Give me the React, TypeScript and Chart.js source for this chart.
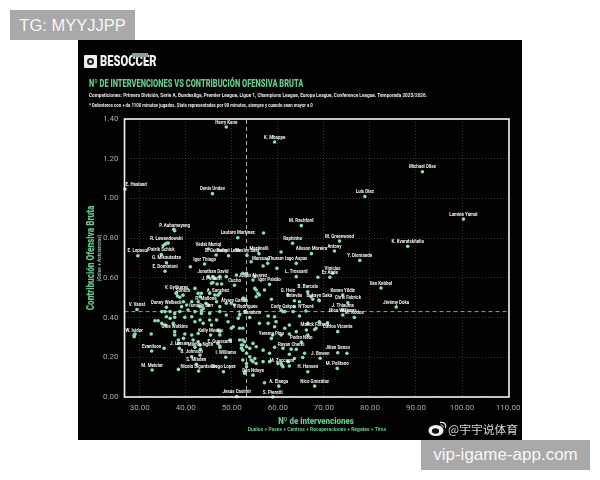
import React, { useEffect, useRef } from "react";
import { Chart, registerables } from "chart.js";

Chart.register(...registerables);

const chartTitle = "Nº DE INTERVENCIONES VS CONTRIBUCIÓN OFENSIVA BRUTA";
const chartSubtitle = "Competiciones: Primera División, Serie A, Bundesliga, Premier League, Ligue 1, Champions League, Europa League, Conference League. Temporada 2025/2026.";
const chartNote = "* Delanteros con + de 1100 minutos jugados. Stats representadas por 90 minutos, siempre y cuando sean mayor a 0";
const xTitle = "Nº de intervenciones";
const xSubtitle = "Duelos + Pases + Centros + Recuperaciones + Regates + Tiros";
const yTitle = "Contribución Ofensiva Bruta";
const ySubtitle = "(Goles + Asistencias)";

const labelNames = [
  "Harry Kane", "K. Mbappe", "E. Haaland", "Denis Undav", "M. Rashford", "P. Aubameyang", "Lautaro Martinez",
  "R. Lewandowski", "Raphinha", "E. Lepasul", "Patrik Schick", "Vedat Muriqi", "S. Guirassy", "Rafael Leão",
  "Martinelli", "Wesley Said", "Marcus Thuram", "Iago Aspas", "Alisson Moreira", "Igor Thiago", "G. Mikautadze",
  "E. Dominioni", "Michael Olise", "Luis Diaz", "Lamine Yamal", "M. Greenwood", "K. Kvaratskhelia", "Antony",
  "Y. Diomande", "Ilan Kebbal", "Jérémy Doku", "Jonathan David", "J. Pellistri", "Cucho", "A. Sanchez",
  "V. Gyökeres", "Sörloth", "Danny Welbeck", "V. Vanat", "W. Isidor", "Evanilson", "M. Meister", "J. Larsen",
  "Ollie Watkins", "B. Johnson", "S. Mladen", "Nicola Sigurdsson", "Diego Lopez", "I. Williams", "Jesus Casimir",
  "S. Pierotti", "Vinicius", "Ez Abde", "L. Trossard", "Julián Alvarez", "Igor Paixão", "B. Barcola", "G. Hein",
  "Kenan Yildiz", "Bukayo Saka", "Estevão", "Chris Fabrick", "J. Thiaume", "Cody Gakpo", "N'Touré", "Nico Williams",
  "M. Kodos", "Carlos Vicente", "Jilien Danso", "J. Bowen", "M. Politano", "Nico González", "A. Elanga",
  "H. Hansen", "Dan Ndoye", "Yeremy Pino", "Pedro Neto", "Rayan Cherki", "M. Zaccagni", "Álvaro García", "Ismaïla Sarr",
  "R. Mallone", "E. Guessand", "Kelly Mouris", "Mikhia Ngoh", "L. Sanabria", "Malick Fofana", "T. Rodrigues",
];
const labelX = [
  48.8, 59.3, 26.8, 45.8, 65.1, 37.6, 51.3, 35.8, 63.2, 29.6, 34.7, 44.9, 46.6, 49.3, 55.9, 53.3, 57.8, 64.0, 67.3, 44.1, 35.8,
  35.5, 91.4, 78.9, 100.3, 73.4, 88.2, 72.3, 77.8, 82.4, 85.7, 45.9, 45.6, 50.6, 47.0, 38.0, 39.4, 35.8, 29.4, 28.8, 32.6, 32.7, 38.6,
  37.6, 41.3, 42.3, 42.8, 48.2, 48.7, 51.1, 58.9, 71.9, 71.3, 64.0, 54.6, 58.2, 66.5, 62.2, 74.1, 69.0, 63.6, 75.2, 74.1, 61.1, 66.1, 74.1,
  76.6, 73.0, 73.0, 69.2, 72.9, 68.0, 60.2, 66.5, 54.6, 58.6, 65.1, 62.9, 60.9, 50.6, 43.4, 44.4, 47.4, 45.4, 43.2, 53.9, 68.0, 52.9,
];
const labelY = [
  1.36, 1.284, 1.047, 1.024, 0.863, 0.837, 0.802, 0.774, 0.774, 0.711, 0.718, 0.745, 0.715, 0.711, 0.722, 0.713, 0.673, 0.673, 0.722, 0.67, 0.676,
  0.633, 1.134, 1.01, 0.896, 0.785, 0.759, 0.735, 0.688, 0.549, 0.453, 0.606, 0.573, 0.563, 0.513, 0.525, 0.513, 0.452, 0.441, 0.312, 0.232, 0.136, 0.245,
  0.329, 0.203, 0.165, 0.131, 0.127, 0.2, 0.002, 0.0, 0.623, 0.603, 0.606, 0.589, 0.567, 0.53, 0.514, 0.514, 0.485, 0.485, 0.475, 0.438, 0.43, 0.433, 0.413,
  0.4, 0.329, 0.223, 0.195, 0.144, 0.055, 0.055, 0.127, 0.11, 0.295, 0.277, 0.241, 0.16, 0.463, 0.435, 0.472, 0.257, 0.312, 0.24, 0.4, 0.34, 0.43,
];

const otherX = [
  41.0, 44.9, 46.3, 47.4, 48.8, 51.0, 52.4, 45.9, 46.8, 47.8, 42.0, 42.7, 43.4, 43.1, 45.2, 46.3, 47.4, 37.9, 38.2, 38.7, 39.5, 39.1, 40.2, 41.3, 42.7,
  43.1, 43.8, 44.9, 46.7, 47.4, 48.8, 52.6, 49.9, 34.8, 35.5, 36.6, 37.6, 38.7, 40.5, 42.0, 43.4, 45.2, 47.4, 48.8, 51.7, 35.8, 36.6, 37.6, 39.8, 41.3,
  42.0, 43.1, 45.2, 46.7, 49.2, 51.4, 33.3, 34.0, 34.8, 35.5, 37.3, 43.8, 45.6, 47.4, 49.9, 50.3, 52.4, 47.0, 32.5, 28.8, 29.0, 37.6, 39.8, 41.3, 42.7,
  47.4, 49.6, 51.7, 52.8, 52.1, 53.2, 38.4, 39.5, 41.6, 42.7, 43.1, 38.4, 35.3, 42.0, 47.0, 47.4, 52.4, 53.2, 43.1, 38.4, 52.8, 53.2, 51.7, 53.2, 55.0,
  55.0, 55.3, 55.7, 56.0, 55.3, 57.1, 58.6, 59.8, 56.8, 68.7, 67.2, 67.6, 68.9, 64.7, 63.6, 60.7, 61.5, 63.3, 64.7, 57.9, 59.3, 52.4, 52.8, 56.0, 57.9,
  59.6, 62.5, 59.3, 61.5, 66.5, 69.0, 70.8, 66.2, 68.3, 64.0, 62.5, 58.9, 60.7, 66.5, 52.4, 54.6, 52.4, 52.1, 53.9, 55.3, 56.8, 59.3, 61.1, 58.2, 64.0,
  65.8, 62.5, 63.6, 65.4, 75.0, 53.9, 55.0, 54.2, 53.2, 54.6, 55.3, 58.2, 60.7, 61.1, 62.5, 62.2, 60.0, 56.8, 52.4, 57.1, 52.8, 56.9, 37.4, 35.1, 35.5,
  36.2, 60.7, 57.8, 54.2,
];
const otherY = [
  0.656, 0.606, 0.598, 0.606, 0.606, 0.614, 0.623, 0.576, 0.569, 0.569, 0.547, 0.522, 0.522, 0.505, 0.522, 0.514, 0.522, 0.522, 0.509, 0.502, 0.48, 0.455, 0.463, 0.48, 0.48,
  0.455, 0.446, 0.463, 0.48, 0.455, 0.472, 0.497, 0.472, 0.43, 0.43, 0.43, 0.421, 0.43, 0.438, 0.43, 0.421, 0.421, 0.43, 0.413, 0.413, 0.404, 0.396, 0.401, 0.401, 0.404,
  0.379, 0.388, 0.388, 0.388, 0.379, 0.396, 0.384, 0.384, 0.371, 0.362, 0.371, 0.371, 0.362, 0.329, 0.346, 0.354, 0.346, 0.337, 0.317, 0.304, 0.317, 0.312, 0.317, 0.312, 0.32,
  0.312, 0.287, 0.287, 0.278, 0.262, 0.253, 0.287, 0.295, 0.287, 0.278, 0.262, 0.27, 0.245, 0.25, 0.27, 0.25, 0.236, 0.22, 0.211, 0.139, 0.119, 0.152, 0.346, 0.623, 0.606,
  0.547, 0.539, 0.522, 0.514, 0.505, 0.539, 0.492, 0.648, 0.66, 0.603, 0.505, 0.492, 0.488, 0.48, 0.455, 0.438, 0.43, 0.43, 0.408, 0.408, 0.404, 0.497, 0.488, 0.371, 0.371,
  0.379, 0.362, 0.354, 0.346, 0.371, 0.379, 0.374, 0.337, 0.346, 0.329, 0.317, 0.312, 0.312, 0.312, 0.287, 0.27, 0.262, 0.245, 0.245, 0.253, 0.236, 0.25, 0.245, 0.22, 0.24,
  0.22, 0.215, 0.194, 0.199, 0.22, 0.203, 0.194, 0.186, 0.169, 0.178, 0.169, 0.178, 0.169, 0.152, 0.156, 0.178, 0.169, 0.178, 0.186, 0.072, 0.127, 0.826, 0.845, 0.762, 0.769,
  0.775, 0.73, 0.695, 0.681,
];

const meanX = 53.2;
const meanY = 0.43;
const xMin = 26.7;
const xMax = 110.2;
const yMin = 0;
const yMax = 1.4;

const sans = "Roboto, sans-serif";
const GREEN = "#66c98f";
const DOT = "#8edcb3";

function squeezed(ctx: any, text: string, x: number, y: number, sx: number) {
  ctx.save();
  ctx.translate(x, y);
  ctx.scale(sx, 1);
  ctx.fillText(text, 0, 0);
  ctx.restore();
}

const headerPlugin = {
  id: "header",
  afterDatasetsDraw(chart: any) {
    const { ctx, chartArea: a } = chart;
    ctx.save();
    const meta = chart.getDatasetMeta(0);
    ctx.font = `bold 5.3px ${sans}`;
    ctx.fillStyle = "#f2f2f2";
    ctx.textAlign = "center";
    ctx.textBaseline = "middle";
    meta.data.forEach((pt: any, i: number) => {
      const w = ctx.measureText(labelNames[i]).width * 0.84;
      const cx = Math.max(pt.x, a.left + w / 2 + 1);
      squeezed(ctx, labelNames[i], cx, pt.y - 4.7, 0.84);
    });
    ctx.strokeStyle = "#f4f4f4";
    ctx.lineWidth = 1.6;
    ctx.strokeRect(a.left, a.top, a.right - a.left, a.bottom - a.top);

    ctx.textAlign = "left";
    ctx.fillStyle = GREEN;
    ctx.font = `900 11px ${sans}`;
    squeezed(ctx, chartTitle, 11, 44.5, 0.68);
    ctx.fillStyle = "#e8e8e8";
    ctx.font = `bold 5.6px ${sans}`;
    squeezed(ctx, chartSubtitle, 11, 56, 0.84);
    ctx.font = `bold 4.9px ${sans}`;
    squeezed(ctx, chartNote, 11, 66, 0.88);

    ctx.textAlign = "center";
    ctx.fillStyle = GREEN;
    ctx.font = `900 9.5px ${sans}`;
    squeezed(ctx, xTitle, 238, 381.5, 0.84);
    ctx.font = `bold 5.8px ${sans}`;
    squeezed(ctx, xSubtitle, 239, 390, 0.86);

    ctx.translate(13, 218);
    ctx.rotate(-Math.PI / 2);
    ctx.font = `900 10px ${sans}`;
    squeezed(ctx, yTitle, 0, 0, 0.82);
    ctx.fillStyle = "#8fb8a0";
    ctx.font = `bold 5.2px ${sans}`;
    squeezed(ctx, ySubtitle, 0, 9, 0.95);
    ctx.restore();
  },
};

export default function App() {
  const ref = useRef<HTMLCanvasElement | null>(null);
  useEffect(() => {
    document.body.style.background = "#ffffff";
    const chart = new Chart(ref.current!, {
      type: "scatter",
      data: {
        datasets: [
          {
            label: "Labeled",
            data: labelX.map((x, i) => ({ x, y: labelY[i] })),
            backgroundColor: DOT,
            borderWidth: 0,
            pointRadius: 1.8,
            clip: false,
            order: 1,
          },
          {
            label: "Others",
            data: otherX.map((x, i) => ({ x, y: otherY[i] })),
            backgroundColor: DOT,
            borderWidth: 0,
            pointRadius: 1.8,
            clip: false,
            order: 2,
          },
          {
            label: "Mean X",
            type: "line",
            data: [{ x: meanX, y: yMin }, { x: meanX, y: yMax }],
            borderColor: "#d8d8d8",
            borderWidth: 0.8,
            borderDash: [4, 3],
            pointRadius: 0,
            order: 3,
          },
          {
            label: "Mean Y",
            type: "line",
            data: [{ x: xMin, y: meanY }, { x: xMax, y: meanY }],
            borderColor: "#c4c4c4",
            borderWidth: 0.8,
            borderDash: [4, 3],
            pointRadius: 0,
            order: 3,
          },
        ],
      } as any,
      options: {
        responsive: false,
        animation: false,
        layout: { padding: { top: 79, right: 13, left: 0, bottom: 0 } },
        plugins: { legend: { display: false }, tooltip: { enabled: false } },
        scales: {
          x: {
            type: "linear",
            min: xMin,
            max: xMax,
            afterFit: (s: any) => { s.height = 43; s.paddingLeft = 0; s.paddingRight = 0; },
            grid: { color: "rgba(255,255,255,0.26)", lineWidth: 0.8, drawTicks: false },
            border: { display: false, dash: [1, 2] },
            ticks: {
              stepSize: 10,
              includeBounds: false,
              padding: 6,
              maxRotation: 0,
              color: "#a9a9a9",
              font: { family: "Roboto", size: 8 },
              callback: (v: any) => Number(v).toFixed(2),
            },
          },
          y: {
            type: "linear",
            min: yMin,
            max: yMax,
            afterFit: (s: any) => { s.width = 46.5; s.paddingTop = 0; s.paddingBottom = 0; },
            grid: { color: "rgba(255,255,255,0.26)", lineWidth: 0.8, drawTicks: false },
            border: { display: false, dash: [1, 2] },
            ticks: {
              stepSize: 0.2,
              padding: 6,
              color: "#a9a9a9",
              font: { family: "Roboto", size: 8 },
              callback: (v: any) => Number(v).toFixed(2),
            },
          },
        },
      } as any,
      plugins: [headerPlugin],
    });
    return () => chart.destroy();
  }, []);

  const box = (left: number, top: number, width: number, text: string, size: number) => (
    <div
      style={{
        position: "fixed", left, top, width, height: 30, background: "#a9a9a9", color: "#f7f7f7",
        font: `${size}px "Liberation Sans", sans-serif`, lineHeight: "30px", textAlign: "center",
      }}
    >
      {text}
    </div>
  );

  return (
    <div style={{ position: "fixed", left: 0, top: 0, width: 600, height: 480, background: "#fff", overflow: "hidden" }}>
      <div style={{ position: "absolute", left: 78, top: 40, width: 444, height: 400, background: "#020202" }}>
        <canvas ref={ref} width={444} height={400} style={{ display: "block", width: 444, height: 400, filter: "blur(0.35px)" }} />
      </div>
      {box(10, 10, 125, "TG: MYYJJPP", 16.5)}
      {box(421, 440, 169, "vip-igame-app.com", 17)}
      <div style={{ position: "fixed", left: 84, top: 55, width: 13, height: 13, background: "#efefef", borderRadius: 1 }}>
        <div style={{ position: "absolute", left: 3, top: 3, width: 3, height: 3, border: "2px solid #222", borderRadius: "50%" }} />
      </div>
      <div style={{ position: "fixed", left: 100, top: 55, font: `900 14px/13px Roboto, sans-serif`, color: "#f2f2f2", transform: "scaleX(0.8)", transformOrigin: "left center", whiteSpace: "nowrap" }}>
        BESOCCER
      </div>
      <div style={{ position: "fixed", left: 132, top: 52.5, width: 16, height: 4, background: "#8f9f96" }} />
      <svg style={{ position: "fixed", left: 428, top: 420 }} width="20" height="17" viewBox="0 0 20 17">
        <ellipse cx="8" cy="10.5" rx="7.5" ry="5.5" fill="#f0f0f0" />
        <ellipse cx="7.5" cy="11" rx="3.6" ry="2.8" fill="#111" />
        <path d="M12 2.5 C16 1.5 18.5 4.5 17.5 8" stroke="#e6e6e6" strokeWidth="1.3" fill="none" />
        <path d="M12.5 5 C14.5 4.6 15.6 6 15 7.6" stroke="#e6e6e6" strokeWidth="1" fill="none" />
      </svg>
      <div style={{ position: "fixed", left: 448, top: 421, font: `11.8px/16px "Noto Sans CJK SC", sans-serif`, color: "#d8d8d8", whiteSpace: "nowrap" }}>
        @宇宇说体育
      </div>
    </div>
  );
}
